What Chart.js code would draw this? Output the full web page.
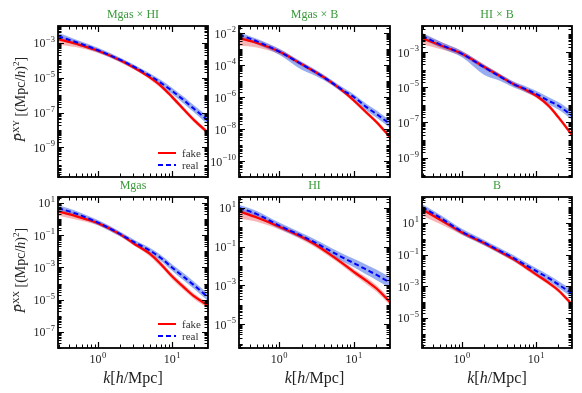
<!DOCTYPE html>
<html>
<head>
<meta charset="utf-8">
<script src="https://cdn.jsdelivr.net/npm/chart.js@4"></script>
<style>
  body { margin: 0; background: #fff; }
  #wrap { position: relative; width: 582px; height: 393px; }
  #wrap canvas { position: absolute; left: 0; top: 0; }
</style>
</head>
<body>
<div id="wrap"></div>
<script>
// k values (h/Mpc) shared by every panel
const kValues = [0.29, 0.5, 1, 2, 3, 5, 7, 10, 15, 20, 30.5];

// all power values below are log10(P)

// Mgas x HI
const mgasHI_fake   = [-2.78, -3.05, -3.45, -4.00, -4.40, -4.98, -5.45, -6.10, -6.90, -7.45, -8.15];
const mgasHI_fakeLo = [-3.10, -3.24, -3.58, -4.12, -4.52, -5.10, -5.58, -6.23, -7.03, -7.58, -8.28];
const mgasHI_fakeHi = [-2.56, -2.88, -3.33, -3.88, -4.28, -4.86, -5.32, -5.97, -6.77, -7.32, -8.02];
const mgasHI_real   = [-2.62, -2.95, -3.42, -3.98, -4.35, -4.88, -5.28, -5.75, -6.35, -6.80, -7.45];
const mgasHI_realLo = [-2.80, -3.10, -3.55, -4.10, -4.48, -5.02, -5.44, -5.93, -6.55, -7.00, -7.68];
const mgasHI_realHi = [-2.42, -2.80, -3.28, -3.85, -4.22, -4.74, -5.12, -5.57, -6.15, -6.60, -7.22];

// Mgas x B
const mgasB_fake   = [-2.32, -2.62, -3.16, -3.95, -4.42, -5.08, -5.59, -6.22, -7.00, -7.55, -8.50];
const mgasB_fakeLo = [-2.80, -2.90, -3.32, -4.08, -4.55, -5.21, -5.72, -6.35, -7.13, -7.68, -8.63];
const mgasB_fakeHi = [-2.12, -2.42, -3.00, -3.82, -4.29, -4.95, -5.46, -6.09, -6.87, -7.42, -8.37];
const mgasB_real   = [-2.10, -2.52, -3.16, -3.95, -4.42, -5.08, -5.55, -6.00, -6.65, -7.05, -7.68];
const mgasB_realLo = [-2.28, -2.70, -3.36, -4.30, -4.66, -5.24, -5.72, -6.20, -6.86, -7.28, -7.92];
const mgasB_realHi = [-1.93, -2.36, -2.98, -3.80, -4.27, -4.92, -5.38, -5.82, -6.45, -6.83, -7.45];

// HI x B
const hiB_fake   = [-2.21, -2.60, -3.10, -3.85, -4.28, -4.83, -5.12, -5.47, -6.08, -6.70, -7.70];
const hiB_fakeLo = [-2.55, -2.82, -3.24, -3.98, -4.41, -4.96, -5.25, -5.60, -6.21, -6.83, -7.83];
const hiB_fakeHi = [-1.98, -2.40, -2.94, -3.71, -4.15, -4.70, -4.99, -5.34, -5.95, -6.57, -7.57];
const hiB_real   = [-2.08, -2.56, -3.10, -3.87, -4.30, -4.83, -5.08, -5.38, -5.78, -6.05, -6.60];
const hiB_realLo = [-2.26, -2.74, -3.30, -4.30, -4.58, -5.02, -5.26, -5.56, -5.98, -6.27, -6.84];
const hiB_realHi = [-1.90, -2.39, -2.94, -3.72, -4.15, -4.68, -4.92, -5.20, -5.58, -5.84, -6.36];

// Mgas
const mgas_fake   = [0.48, 0.18, -0.25, -0.95, -1.50, -2.15, -2.78, -3.55, -4.30, -4.80, -5.35];
const mgas_fakeLo = [0.20, -0.02, -0.38, -1.08, -1.63, -2.30, -2.95, -3.73, -4.48, -4.97, -5.52];
const mgas_fakeHi = [0.70, 0.36, -0.12, -0.82, -1.37, -2.00, -2.61, -3.37, -4.12, -4.63, -5.18];
const mgas_real   = [0.68, 0.35, -0.22, -0.93, -1.40, -1.95, -2.40, -3.00, -3.65, -4.12, -4.85];
const mgas_realLo = [0.50, 0.18, -0.38, -1.08, -1.55, -2.12, -2.58, -3.20, -3.87, -4.34, -5.08];
const mgas_realHi = [0.86, 0.52, -0.06, -0.78, -1.25, -1.78, -2.22, -2.80, -3.43, -3.90, -4.62];

// HI
const hi_fake   = [0.82, 0.50, 0.03, -0.50, -0.88, -1.45, -1.85, -2.30, -2.78, -3.15, -3.85];
const hi_fakeLo = [0.45, 0.28, -0.12, -0.64, -1.02, -1.59, -1.99, -2.45, -2.95, -3.32, -4.02];
const hi_fakeHi = [1.00, 0.68, 0.17, -0.36, -0.74, -1.31, -1.71, -2.15, -2.61, -2.98, -3.68];
const hi_real   = [1.00, 0.68, 0.08, -0.45, -0.78, -1.25, -1.55, -1.85, -2.20, -2.45, -2.85];
const hi_realLo = [0.82, 0.52, -0.08, -0.60, -0.94, -1.43, -1.75, -2.07, -2.45, -2.72, -3.13];
const hi_realHi = [1.16, 0.84, 0.24, -0.30, -0.62, -1.07, -1.35, -1.63, -1.95, -2.18, -2.57];

// B
const b_fake   = [1.85, 1.22, 0.40, -0.28, -0.72, -1.30, -1.75, -2.25, -2.80, -3.25, -4.15];
const b_fakeLo = [1.45, 0.95, 0.24, -0.42, -0.86, -1.44, -1.89, -2.39, -2.94, -3.39, -4.29];
const b_fakeHi = [2.08, 1.42, 0.54, -0.14, -0.58, -1.16, -1.61, -2.11, -2.66, -3.11, -4.01];
const b_real   = [2.00, 1.35, 0.45, -0.25, -0.68, -1.22, -1.62, -2.03, -2.50, -2.88, -3.45];
const b_realLo = [1.80, 1.16, 0.27, -0.42, -0.85, -1.40, -1.80, -2.22, -2.70, -3.10, -3.70];
const b_realHi = [2.20, 1.53, 0.63, -0.08, -0.51, -1.04, -1.44, -1.84, -2.30, -2.66, -3.20];

const panelTitles = ['Mgas \u00d7 HI', 'Mgas \u00d7 B', 'HI \u00d7 B', 'Mgas', 'HI', 'B'];
const legendLabels = ['fake', 'real'];
const xTickExps = [0, 1];
const yTickExps = [[-3, -5, -7, -9], [-2, -4, -6, -8, -10], [-3, -5, -7, -9],
                   [1, -1, -3, -5, -7], [1, -1, -3, -5], [1, -1, -3, -5]];
// axis limits, as log10
const xMinExp = -0.54, xMaxExp = 1.486;
const yMinExp = [-10.7, -11.0, -10.1, -8.0, -6.23, -6.9];
const yMaxExp = [-2.03, -1.56, -1.52, 1.37, 1.56, 2.64];

const panelSeries = [
    [mgasHI_fake, mgasHI_fakeLo, mgasHI_fakeHi, mgasHI_real, mgasHI_realLo, mgasHI_realHi],
    [mgasB_fake, mgasB_fakeLo, mgasB_fakeHi, mgasB_real, mgasB_realLo, mgasB_realHi],
    [hiB_fake, hiB_fakeLo, hiB_fakeHi, hiB_real, hiB_realLo, hiB_realHi],
    [mgas_fake, mgas_fakeLo, mgas_fakeHi, mgas_real, mgas_realLo, mgas_realHi],
    [hi_fake, hi_fakeLo, hi_fakeHi, hi_real, hi_realLo, hi_realHi],
    [b_fake, b_fakeLo, b_fakeHi, b_real, b_realLo, b_realHi]
];

// ---- layout: plot boxes [left, top, right, bottom] on the 582x393 page
const W = 582, H = 393;
const panelBoxes = [
    [58, 26, 208, 177], [239, 26, 390, 177], [422, 26, 572, 177],
    [58, 197, 208, 348], [239, 197, 390, 348], [422, 197, 572, 348]
];

const SERIF = '"Liberation Serif", "DejaVu Serif", serif';
const RED = '#ff0000', BLUE = '#0000ff';

function toPoints(exps) {
    return kValues.map((k, i) => ({ x: k, y: Math.pow(10, exps[i]) }));
}

function expText(e) {
    return e < 0 ? '\u2212' + (-e) : String(e);
}

// '10' with a raised exponent
function drawPower(ctx, e, x, y, align) {
    ctx.font = '12px ' + SERIF;
    const wBase = ctx.measureText('10').width;
    ctx.font = '8.5px ' + SERIF;
    const wExp = ctx.measureText(expText(e)).width;
    const total = wBase + wExp + 0.5;
    const x0 = align === 'right' ? x - total : x - total / 2;
    ctx.font = '12px ' + SERIF;
    ctx.fillText('10', x0, y);
    ctx.font = '8.5px ' + SERIF;
    ctx.fillText(expText(e), x0 + wBase + 0.5, y - 5.5);
}

// text made of runs: {t, size, it, dy}
function runsWidth(ctx, runs) {
    let w = 0;
    runs.forEach(r => { ctx.font = (r.it ? 'italic ' : '') + r.size + 'px ' + SERIF; w += ctx.measureText(r.t).width; });
    return w;
}
function drawRuns(ctx, runs, x, y) {
    let cx = x;
    runs.forEach(r => {
        ctx.font = (r.it ? 'italic ' : '') + r.size + 'px ' + SERIF;
        ctx.fillText(r.t, cx, y + (r.dy || 0));
        cx += ctx.measureText(r.t).width;
    });
}

const decoPlugin = {
    id: 'deco',
    afterDraw(chart, args, opts) {
        const ctx = chart.ctx;
        const { left, top, right, bottom } = chart.chartArea;
        const xs = chart.scales.x, ys = chart.scales.y;
        ctx.save();
        ctx.fillStyle = '#000';
        ctx.strokeStyle = '#000';
        ctx.textBaseline = 'alphabetic';
        ctx.textAlign = 'left';

        // x ticks, inward on bottom and top
        for (let e = -1; e <= 1; e++) {
            for (let m = 1; m <= 9; m++) {
                const v = m * Math.pow(10, e);
                if (v < xs.min || v > xs.max) continue;
                const px = Math.round(xs.getPixelForValue(v)) + 0.5;
                const len = m === 1 ? 6 : 3.5;
                ctx.lineWidth = m === 1 ? 1.2 : 1;
                ctx.beginPath();
                ctx.moveTo(px, bottom); ctx.lineTo(px, bottom - len);
                ctx.moveTo(px, top); ctx.lineTo(px, top + len);
                ctx.stroke();
            }
        }
        // y ticks, inward on left and right
        const eLo = Math.floor(Math.log10(ys.min)), eHi = Math.ceil(Math.log10(ys.max));
        for (let e = eLo; e <= eHi; e++) {
            for (let m = 1; m <= 9; m++) {
                const v = m * Math.pow(10, e);
                if (v < ys.min || v > ys.max) continue;
                const py = Math.round(ys.getPixelForValue(v)) + 0.5;
                const major = m === 1 && opts.yTicks.includes(e);
                const len = major ? 6 : 3.5;
                ctx.lineWidth = major ? 1.2 : 1;
                ctx.beginPath();
                ctx.moveTo(left, py); ctx.lineTo(left + len, py);
                ctx.moveTo(right, py); ctx.lineTo(right - len, py);
                ctx.stroke();
            }
        }
        // frame
        ctx.lineWidth = 1.8;
        ctx.strokeRect(left, top, right - left, bottom - top);

        // y tick labels
        ctx.fillStyle = '#222';
        opts.yTicks.forEach(e => {
            const py = ys.getPixelForValue(Math.pow(10, e));
            drawPower(ctx, e, left - 3, py + 4.5, 'right');
        });
        // x tick labels and axis label on the bottom row
        if (opts.bottomRow) {
            xTickExps.forEach(e => {
                const px = xs.getPixelForValue(Math.pow(10, e));
                drawPower(ctx, e, px, bottom + 15, 'center');
            });
            const runs = [{ t: 'k', size: 16, it: true }, { t: '[', size: 16 }, { t: 'h', size: 16, it: true }, { t: '/Mpc]', size: 16 }];
            const w = runsWidth(ctx, runs);
            drawRuns(ctx, runs, (left + right) / 2 - w / 2, bottom + 35);
        }
        // title
        ctx.fillStyle = '#3a9a3a';
        ctx.font = '12px ' + SERIF;
        ctx.textAlign = 'center';
        ctx.fillText(opts.title, (left + right) / 2, top - 8);
        ctx.textAlign = 'left';

        // y axis label and legend on the first column
        if (opts.firstCol) {
            ctx.fillStyle = '#222';
            const runs = [{ t: 'P\u0304', size: 15, it: true }, { t: opts.pair, size: 9, dy: -6 },
                          { t: ' [(Mpc/', size: 14 }, { t: 'h', size: 14, it: true }, { t: ')', size: 14 },
                          { t: '2', size: 9, dy: -6 }, { t: ']', size: 14 }];
            const w = runsWidth(ctx, runs);
            ctx.save();
            ctx.translate(25, (top + bottom) / 2 - 2);
            ctx.rotate(-Math.PI / 2);
            drawRuns(ctx, runs, -w / 2, 0);
            ctx.restore();

            const lx0 = right - 50, lx1 = right - 32;
            const ly = [bottom - 24, bottom - 12];
            ctx.lineWidth = 2;
            ctx.strokeStyle = RED;
            ctx.beginPath(); ctx.moveTo(lx0, ly[0]); ctx.lineTo(lx1, ly[0]); ctx.stroke();
            ctx.strokeStyle = BLUE;
            ctx.setLineDash([5, 3]);
            ctx.beginPath(); ctx.moveTo(lx0, ly[1]); ctx.lineTo(lx1, ly[1]); ctx.stroke();
            ctx.setLineDash([]);
            ctx.fillStyle = '#333';
            ctx.font = '11px ' + SERIF;
            ctx.fillText(legendLabels[0], right - 26, ly[0] + 3.5);
            ctx.fillText(legendLabels[1], right - 26, ly[1] + 3.5);
        }
        ctx.restore();
    }
};

const wrap = document.getElementById('wrap');

panelSeries.forEach((s, i) => {
    const [fake, fakeLo, fakeHi, real, realLo, realHi] = s;
    const box = panelBoxes[i];
    const canvas = document.createElement('canvas');
    canvas.width = W;
    canvas.height = H;
    wrap.appendChild(canvas);

    const line = { pointRadius: 0, cubicInterpolationMode: 'monotone', fill: false };
    new Chart(canvas.getContext('2d'), {
        type: 'line',
        data: {
            datasets: [
                // first dataset is painted last (on top)
                { ...line, label: legendLabels[1], data: toPoints(real), borderColor: BLUE, borderWidth: 2, borderDash: [5, 3] },
                { ...line, label: legendLabels[0], data: toPoints(fake), borderColor: RED, borderWidth: 2.2 },
                { ...line, data: toPoints(realHi), borderWidth: 0, fill: 3, backgroundColor: 'rgba(65, 105, 225, 0.55)' },
                { ...line, data: toPoints(realLo), borderWidth: 0 },
                { ...line, data: toPoints(fakeHi), borderWidth: 0, fill: 5, backgroundColor: 'rgba(235, 60, 60, 0.38)' },
                { ...line, data: toPoints(fakeLo), borderWidth: 0 }
            ]
        },
        options: {
            responsive: false,
            animation: false,
            devicePixelRatio: 1,
            layout: { padding: { left: box[0], top: box[1], right: W - box[2], bottom: H - box[3] } },
            scales: {
                x: { type: 'logarithmic', display: false, min: Math.pow(10, xMinExp), max: Math.pow(10, xMaxExp) },
                y: { type: 'logarithmic', display: false, min: Math.pow(10, yMinExp[i]), max: Math.pow(10, yMaxExp[i]) }
            },
            plugins: {
                legend: { display: false },
                tooltip: { enabled: false },
                deco: {
                    title: panelTitles[i],
                    yTicks: yTickExps[i],
                    bottomRow: i >= 3,
                    firstCol: i % 3 === 0,
                    pair: i < 3 ? 'XY' : 'XX'
                }
            }
        },
        plugins: [decoPlugin]
    });
});
</script>
</body>
</html>
